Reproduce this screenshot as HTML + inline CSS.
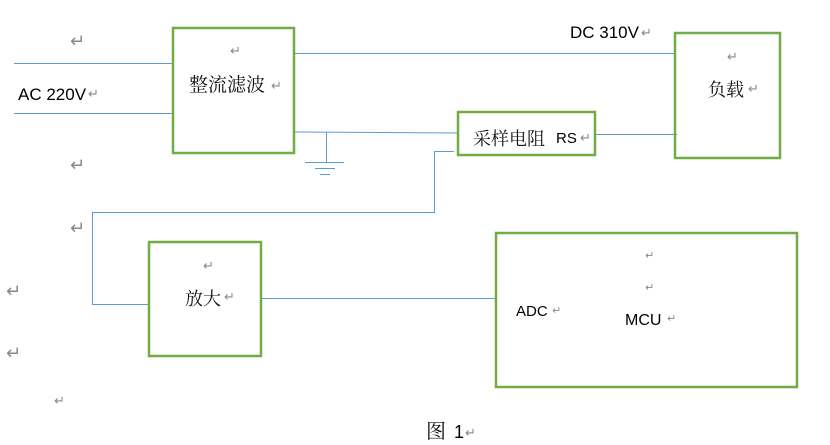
<!DOCTYPE html>
<html><head><meta charset="utf-8"><style>
html,body{margin:0;padding:0;background:#fff;}
svg{display:block;}
.t{font-family:"Liberation Sans","Noto Sans CJK SC",sans-serif;fill:#000;}
.c{font-family:"Noto Serif CJK SC","Noto Sans CJK SC",serif;fill:#111;}
.r{font-family:"DejaVu Sans",sans-serif;fill:#888;}
</style></head><body>
<svg width="830" height="445" viewBox="0 0 830 445" xmlns="http://www.w3.org/2000/svg">
<g stroke="#5b9bd5" stroke-width="1" fill="none">
<line x1="14" y1="63.5" x2="172" y2="63.5"/>
<line x1="14" y1="113.5" x2="172" y2="113.5"/>
<line x1="295" y1="53.5" x2="674" y2="53.5"/>
<line x1="295" y1="132" x2="457" y2="133"/>
<line x1="326.5" y1="132" x2="326.5" y2="162"/>
<line x1="305" y1="162.5" x2="344" y2="162.5"/>
<line x1="315" y1="168.5" x2="335" y2="168.5"/>
<line x1="320" y1="174.5" x2="330" y2="174.5"/>
<line x1="596" y1="134.5" x2="677" y2="134.5"/>
<polyline points="454,151.5 434.5,151.5 434.5,212.5 92.5,212.5 92.5,304.5 148,304.5"/>
<line x1="262" y1="298.5" x2="495" y2="298.5"/>
</g>
<g stroke="#70ad47" stroke-width="2.5" fill="none">
<rect x="173" y="28" width="121" height="125"/>
<rect x="458" y="112" width="137" height="43"/>
<rect x="675" y="33" width="105" height="125"/>
<rect x="149" y="242" width="112" height="114"/>
<rect x="496" y="233" width="301" height="154"/>
</g>
<text class="t" x="18" y="100" font-size="17">AC 220V</text>
<text class="t" x="570" y="38" font-size="17">DC 310V</text>
<text class="c" x="189" y="91" font-size="19">整流滤波</text>
<text class="c" x="473" y="145" font-size="18">采样电阻</text>
<text class="t" x="556" y="143" font-size="15">RS</text>
<text class="c" x="708" y="96" font-size="18">负载</text>
<text class="c" x="185" y="305" font-size="18">放大</text>
<text class="t" x="516" y="316" font-size="15">ADC</text>
<text class="t" x="625" y="325" font-size="16">MCU</text>
<text class="c" x="426" y="438" font-size="20">图</text>
<text class="t" x="454" y="438" font-size="18">1</text>
<g class="r">
<text x="70" y="47" font-size="18">↵</text>
<text x="70" y="171" font-size="18">↵</text>
<text x="70" y="234" font-size="18">↵</text>
<text x="6" y="297" font-size="18">↵</text>
<text x="6" y="359" font-size="18">↵</text>
<text x="54" y="405" font-size="13">↵</text>
<text x="88" y="98" font-size="13">↵</text>
<text x="230" y="55" font-size="13">↵</text>
<text x="271" y="90" font-size="13">↵</text>
<text x="641" y="37" font-size="13">↵</text>
<text x="727" y="61" font-size="13">↵</text>
<text x="748" y="93" font-size="13">↵</text>
<text x="580" y="142" font-size="13">↵</text>
<text x="203" y="270" font-size="13">↵</text>
<text x="224" y="301" font-size="13">↵</text>
<text x="552" y="314" font-size="11">↵</text>
<text x="645" y="259" font-size="11">↵</text>
<text x="645" y="291" font-size="11">↵</text>
<text x="667" y="322" font-size="11">↵</text>
<text x="465" y="437" font-size="13">↵</text>
</g>
</svg>
</body></html>
